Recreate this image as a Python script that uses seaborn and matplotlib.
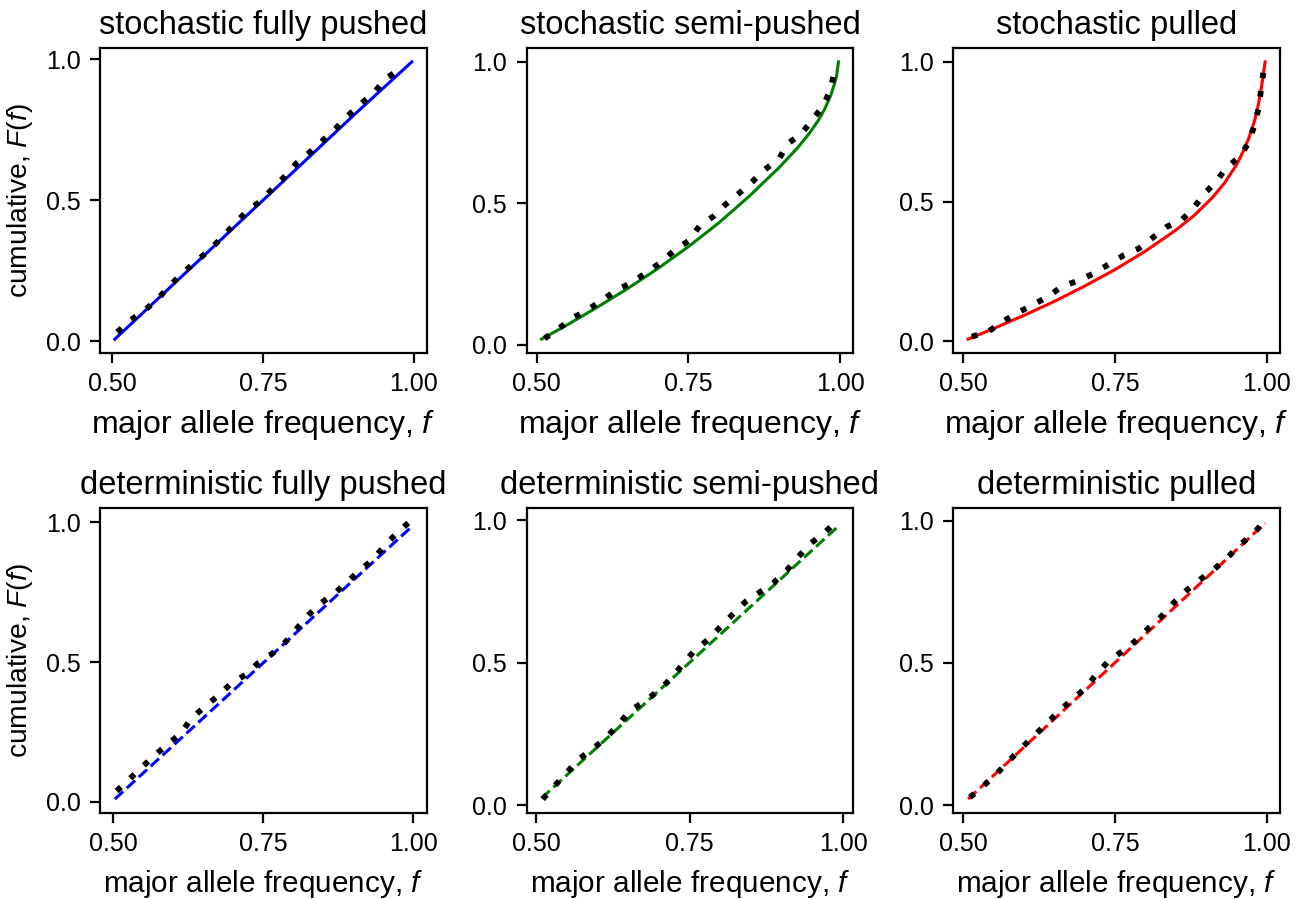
import matplotlib
matplotlib.use('Agg')
import matplotlib.pyplot as plt
import seaborn as sns

# Text styling
plt.rcParams['font.family'] = ['Liberation Sans', 'DejaVu Sans']
plt.rcParams['mathtext.fontset'] = 'custom'
plt.rcParams['mathtext.rm'] = 'Liberation Sans'
plt.rcParams['mathtext.it'] = 'Liberation Sans:italic'

# --- theory curves ---
# stochastic
sto_push_f = [0.504, 0.60, 0.70, 0.80, 0.90, 0.997]
sto_push_F = [0.008, 0.200, 0.400, 0.600, 0.800, 0.990]

sto_semi_f = [0.508, 0.55, 0.60, 0.65, 0.70, 0.75, 0.80, 0.85, 0.90, 0.93,
              0.95, 0.965, 0.975, 0.985, 0.99, 0.994, 0.997]
sto_semi_F = [0.020, 0.070, 0.133, 0.199, 0.270, 0.347, 0.431, 0.525, 0.628, 0.697,
              0.750, 0.797, 0.836, 0.886, 0.920, 0.950, 1.000]

sto_pull_f = [0.508, 0.55, 0.60, 0.65, 0.70, 0.75, 0.80, 0.85, 0.88, 0.91,
              0.93, 0.95, 0.96, 0.97, 0.98, 0.985, 0.99, 0.994, 0.997]
sto_pull_F = [0.008, 0.046, 0.093, 0.143, 0.198, 0.257, 0.323, 0.398, 0.450, 0.514,
              0.566, 0.632, 0.675, 0.726, 0.792, 0.838, 0.896, 0.952, 1.000]

# deterministic
det_push_f = [0.503, 0.998]
det_push_F = [0.010, 0.985]
det_semi_f = [0.509, 0.992]
det_semi_F = [0.024, 0.979]
det_pull_f = [0.508, 0.997]
det_pull_F = [0.021, 0.991]

# --- simulation cumulative distributions ---
sim_sto_push_f = [0.508, 0.530, 0.554, 0.576, 0.595, 0.616, 0.639, 0.660, 0.681,
                  0.702, 0.722, 0.745, 0.765, 0.786, 0.805, 0.827, 0.849, 0.871,
                  0.891, 0.913, 0.935, 0.954, 0.979]
sim_sto_push_F = [0.033, 0.075, 0.111, 0.152, 0.197, 0.241, 0.283, 0.322, 0.366,
                  0.414, 0.459, 0.495, 0.539, 0.584, 0.630, 0.669, 0.711, 0.755,
                  0.800, 0.842, 0.883, 0.931, 0.967]

sim_sto_semi_f = [0.513, 0.537, 0.560, 0.585, 0.609, 0.632, 0.657, 0.681, 0.705,
                  0.727, 0.750, 0.768, 0.791, 0.811, 0.833, 0.855, 0.876, 0.899,
                  0.913, 0.936, 0.954, 0.972, 0.984, 0.990]
sim_sto_semi_F = [0.022, 0.059, 0.095, 0.125, 0.159, 0.194, 0.220, 0.256, 0.292,
                  0.334, 0.367, 0.419, 0.454, 0.496, 0.535, 0.576, 0.620, 0.656,
                  0.710, 0.746, 0.795, 0.845, 0.902, 0.964]

sim_sto_pull_f = [0.514, 0.541, 0.565, 0.588, 0.614, 0.640, 0.662, 0.689, 0.715,
                  0.739, 0.764, 0.789, 0.812, 0.835, 0.860, 0.880, 0.897, 0.916,
                  0.933, 0.955, 0.970, 0.979, 0.986, 0.990, 0.994]
sim_sto_pull_F = [0.017, 0.035, 0.070, 0.101, 0.130, 0.161, 0.196, 0.217, 0.243,
                  0.275, 0.308, 0.332, 0.371, 0.410, 0.435, 0.479, 0.529, 0.570,
                  0.621, 0.660, 0.711, 0.770, 0.832, 0.895, 0.961]

sim_det_push_f = [0.506, 0.527, 0.549, 0.569, 0.591, 0.613, 0.630, 0.652, 0.674,
                  0.696, 0.721, 0.742, 0.765, 0.787, 0.807, 0.826, 0.845, 0.870,
                  0.891, 0.912, 0.934, 0.953, 0.974, 0.994]
sim_det_push_F = [0.039, 0.081, 0.126, 0.166, 0.206, 0.245, 0.297, 0.339, 0.378,
                  0.422, 0.455, 0.497, 0.530, 0.571, 0.622, 0.669, 0.709, 0.747,
                  0.788, 0.830, 0.868, 0.919, 0.963, 1.002]

sim_det_semi_f = [0.511, 0.531, 0.551, 0.569, 0.592, 0.614, 0.634, 0.652, 0.677,
                  0.700, 0.721, 0.739, 0.757, 0.779, 0.799, 0.819, 0.840, 0.862,
                  0.886, 0.908, 0.927, 0.946, 0.969, 0.988]
sim_det_semi_F = [0.021, 0.069, 0.116, 0.160, 0.196, 0.237, 0.281, 0.330, 0.364,
                  0.403, 0.447, 0.495, 0.540, 0.579, 0.623, 0.667, 0.712, 0.744,
                  0.779, 0.824, 0.872, 0.917, 0.955, 0.994]

sim_det_pull_f = [0.511, 0.534, 0.555, 0.575, 0.596, 0.616, 0.637, 0.657, 0.679,
                  0.701, 0.719, 0.739, 0.762, 0.785, 0.806, 0.827, 0.846, 0.867,
                  0.890, 0.913, 0.935, 0.955, 0.978, 0.995]
sim_det_pull_F = [0.027, 0.069, 0.110, 0.155, 0.201, 0.243, 0.285, 0.330, 0.370,
                  0.411, 0.459, 0.506, 0.541, 0.580, 0.624, 0.665, 0.710, 0.754,
                  0.793, 0.829, 0.870, 0.914, 0.955, 0.996]

titles = ['stochastic fully pushed', 'stochastic semi-pushed', 'stochastic pulled',
          'deterministic fully pushed', 'deterministic semi-pushed', 'deterministic pulled']
colors = ['blue', 'green', 'red']

theory = [(sto_push_f, sto_push_F), (sto_semi_f, sto_semi_F), (sto_pull_f, sto_pull_F),
          (det_push_f, det_push_F), (det_semi_f, det_semi_F), (det_pull_f, det_pull_F)]
sims = [(sim_sto_push_f, sim_sto_push_F), (sim_sto_semi_f, sim_sto_semi_F),
        (sim_sto_pull_f, sim_sto_pull_F), (sim_det_push_f, sim_det_push_F),
        (sim_det_semi_f, sim_det_semi_F), (sim_det_pull_f, sim_det_pull_F)]

fig, axes = plt.subplots(2, 3, figsize=(6.535, 4.495), dpi=200)
plt.subplots_adjust(left=0.0765, right=0.9793, top=0.9466, bottom=0.0957,
                    wspace=0.306, hspace=0.508)

for i, ax in enumerate(axes.flat):
    row, col = divmod(i, 3)
    ls = '-' if row == 0 else '--'
    tf, tF = theory[i]
    sf, sF = sims[i]
    sns.lineplot(x=tf, y=tF, ax=ax, color=colors[col], linestyle=ls, linewidth=1.1)
    sns.lineplot(x=sf, y=sF, ax=ax, color='black', linestyle=(0, (1, 2.2)),
                 linewidth=2.1)

    ax.set_xticks([0.5, 0.75, 1.0])
    ax.set_yticks([0.0, 0.5, 1.0])
    ax.tick_params(labelsize=9)

    ax.set_title(titles[i], fontsize=11.75, pad=5)
    xl_size = 11.5 if row == 0 else 10.7
    ax.set_xlabel('major allele frequency, $\\mathit{f}$', fontsize=xl_size)
    if col == 0:
        ax.set_ylabel('cumulative, $\\mathit{F(f)}$', fontsize=10.2)
    else:
        ax.set_ylabel('')

fig.savefig('out.png', dpi=200)
